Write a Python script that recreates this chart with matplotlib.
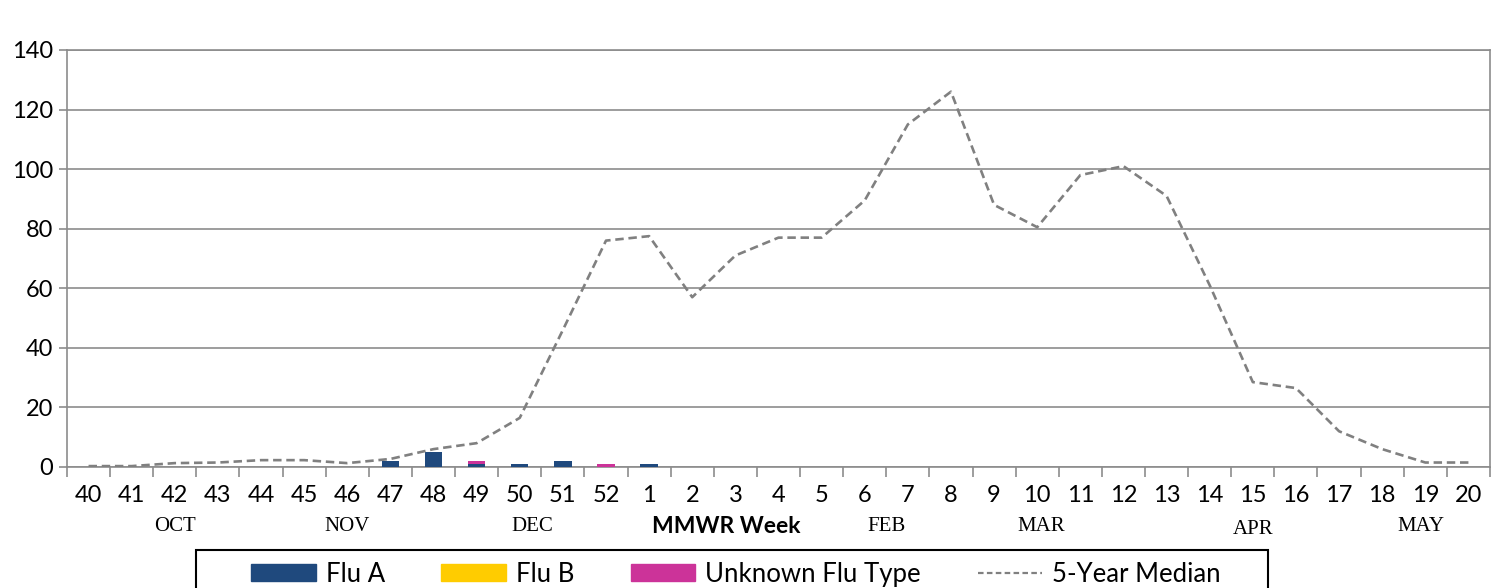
import matplotlib.pyplot as plt
from matplotlib.patches import Patch, Rectangle
from matplotlib.lines import Line2D
import matplotlib.transforms as mtrans
import numpy as np

weeks = ['40', '41', '42', '43', '44', '45', '46', '47', '48', '49', '50', '51', '52',
         '1', '2', '3', '4', '5', '6', '7', '8', '9', '10', '11', '12', '13', '14',
         '15', '16', '17', '18', '19', '20']
flu_a = [0, 0, 0, 0, 0, 0, 0, 2, 5, 1, 1, 2, 0, 1, 0, 0, 0, 0, 0, 0, 0, 0, 0, 0, 0, 0, 0,
         0, 0, 0, 0, 0, 0]
flu_b = [0] * 33
flu_unk = [0, 0, 0, 0, 0, 0, 0, 0, 0, 1, 0, 0, 1, 0, 0, 0, 0, 0, 0, 0, 0, 0, 0, 0, 0, 0, 0,
           0, 0, 0, 0, 0, 0]
median = [0.3, 0.3, 1.3, 1.5, 2.3, 2.3, 1.3, 2.7, 6, 8, 16.5, 46, 76, 77.5, 57, 71, 77,
          77, 89.5, 115, 126, 88, 80.5, 98, 101, 91, 61, 28.5, 26.5, 12, 6, 1.5, 1.5]
months = ['OCT', 'NOV', 'DEC', 'FEB', 'MAR', 'APR', 'MAY']
month_pos = [2, 6, 10.3, 18.5, 22.1, 27, 30.9]

c_a = '#1F497D'
c_b = '#FFCC00'
c_u = '#CC3399'
c_med = '#808080'
grid_c = '#8c8c8c'

plt.rcParams['font.family'] = ['Lato', 'DejaVu Sans']

fig = plt.figure(figsize=(15.02, 5.88), dpi=100)
ax = fig.add_axes([0.0446, 0.2058, 0.9474, 0.7092])

x = np.arange(len(weeks))
a = np.array(flu_a)
b = np.array(flu_b)
u = np.array(flu_unk)
ax.bar(x, a, width=0.4, color=c_a, zorder=3)
ax.bar(x, b, width=0.4, bottom=a, color=c_b, zorder=3)
ax.bar(x, u, width=0.4, bottom=a + b, color=c_u, zorder=3)
ax.plot(x, median, color=c_med, lw=1.9, dashes=(3.2, 1.8), zorder=4)

ax.set_xlim(-0.5, len(weeks) - 0.5)
ax.set_ylim(0, 140)
ax.set_yticks(range(0, 141, 20))
ax.yaxis.grid(True, color=grid_c, lw=1.2)
ax.set_axisbelow(True)

ax.set_xticks(x)
ax.set_xticklabels(weeks, fontsize=17)
ax.set_xticks(np.arange(-0.5, len(weeks)), minor=True)
ax.tick_params(axis='x', which='major', length=0, pad=13)
ax.tick_params(axis='x', which='minor', length=7, width=1.2, color=grid_c)
ax.tick_params(axis='y', labelsize=17, length=6, width=1.2, color=grid_c, pad=4)

for s in ['left', 'right', 'bottom', 'top']:
    ax.spines[s].set_color(grid_c)
    ax.spines[s].set_linewidth(1.2)

trans = mtrans.blended_transform_factory(ax.transData, ax.transAxes)
for m, p in zip(months, month_pos):
    yy = -0.15 if m == 'APR' else -0.143
    ax.text(p, yy, m, transform=trans, ha='center', va='center',
            family='Liberation Serif', fontsize=15)
ax.text(14.8, -0.142, 'MMWR Week', transform=trans, ha='center', va='center',
        fontsize=16.5, fontweight='bold')

# legend box (cut off at the bottom of the figure)
fig.patches.append(Rectangle((196 / 1502, -0.1), 1072 / 1502, 0.1 + 38 / 588,
                             transform=fig.transFigure, fill=False,
                             edgecolor='black', lw=1.5))

handles = [Patch(color=c_a), Patch(color=c_b), Patch(color=c_u),
           Line2D([], [], color=c_med, lw=1.6, dashes=(2.5, 1.5))]
labels = ['Flu A', 'Flu B', 'Unknown Flu Type', '5-Year Median']
leg = fig.legend(handles, labels, loc='upper center', bbox_to_anchor=(0.49, 0.058),
                 ncol=4, fontsize=18.5, frameon=False,
                 handlelength=2.5, handleheight=0.6, columnspacing=2.2,
                 borderpad=0.3, handletextpad=0.4, borderaxespad=0)

fig.savefig('out.png', dpi=100)
